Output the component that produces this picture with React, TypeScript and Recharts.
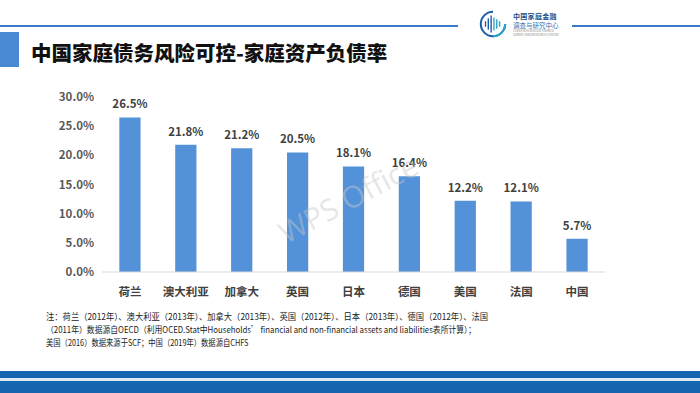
import { BarChart, Bar, XAxis, YAxis, LabelList } from "recharts";

const countries = ["荷兰", "澳大利亚", "加拿大", "英国", "日本", "德国", "美国", "法国", "中国"];
const debtRatio = [26.5, 21.8, 21.2, 20.5, 18.1, 16.4, 12.2, 12.1, 5.7];
const yTicks = [0, 5, 10, 15, 20, 25, 30];

const noteLines = [
  "注：荷兰（2012年）、澳大利亚（2013年）、加拿大（2013年）、英国（2012年）、日本（2013年）、德国（2012年）、法国",
  "（2011年）数据源自OECD（利用OCED.Stat中Households’ financial and non-financial assets and liabilities表所计算）；",
  "美国（2016）数据来源于SCF；中国（2019年）数据源自CHFS",
];
const noteScale = [0.965, 0.91, 0.85];

const data = countries.map((c, i) => ({ country: c, value: debtRatio[i] }));

const font = "'Noto Sans CJK SC', 'Noto Sans', sans-serif";

function Logo() {
  return (
    <div style={{ position: "absolute", left: 478, top: 9, display: "flex", alignItems: "center", gap: 5 }}>
      <svg width={30} height={30} viewBox="0 0 32 32">
        <path d="M16 3 A13 13 0 1 0 29 16" fill="none" stroke="#1b5fa8" strokeWidth={2.2} />
        <path d="M16 29 A13 13 0 0 0 29 16" fill="none" stroke="#2aa6c9" strokeWidth={2.2} />
        {[8, 11, 14, 17, 20, 23].map((x, i) => (
          <line key={i} x1={x} x2={x} y1={16 - [3, 6, 9, 7, 5, 3][i]} y2={16 + [3, 6, 9, 7, 5, 3][i]} stroke={i < 3 ? "#1b5fa8" : "#2aa6c9"} strokeWidth={1.5} />
        ))}
      </svg>
      <div style={{ fontFamily: font }}>
        <div style={{ fontSize: 7, lineHeight: "9px", color: "#1b4f8a", fontWeight: 700, letterSpacing: 0.3 }}>中国家庭金融</div>
        <div style={{ fontSize: 6.5, lineHeight: "8px", color: "#2f6fb0" }}>调查与研究中心</div>
        <div style={{ fontSize: 3, lineHeight: "4px", color: "#888" }}>CHINA HOUSEHOLD FINANCE</div>
        <div style={{ fontSize: 3, lineHeight: "4px", color: "#888" }}>SURVEY AND RESEARCH CENTER</div>
      </div>
    </div>
  );
}

export default function App() {
  return (
    <div style={{ position: "absolute", left: 0, top: 0, width: 700, height: 393, background: "#fff", overflow: "hidden", fontFamily: font }}>
      {/* 顶部线条和标志 */}
      <div style={{ position: "absolute", left: 0, top: 25, width: 458, height: 1.5, background: "#3a7bc8" }} />
      <div style={{ position: "absolute", left: 572, top: 25, width: 128, height: 1.5, background: "#3a7bc8" }} />
      <Logo />

      {/* 标题 */}
      <div style={{ position: "absolute", left: 0, top: 32, width: 19, height: 35, background: "#4a8ad4" }} />
      <div style={{ position: "absolute", left: 31, top: 38, fontSize: 20.5, lineHeight: "28px", fontWeight: 900, color: "#111" }}>
        中国家庭债务风险可控-家庭资产负债率
      </div>

      <div style={{ position: "absolute", left: 0, top: 0 }}>
        <BarChart width={700} height={393} data={data} margin={{ top: 97, right: 95, left: 40, bottom: 91 }} barCategoryGap="69%">
          <XAxis
            dataKey="country"
            axisLine={{ stroke: "#d9d9d9" }}
            tickLine={false}
            height={30}
            tick={{ fill: "#404040", fontSize: 11.5, fontWeight: 700, fontFamily: font }}
            tickMargin={10}
            interval={0}
          />
          <YAxis
            domain={[0, 30]}
            ticks={yTicks}
            width={62}
            axisLine={false}
            tickLine={false}
            tickFormatter={(v: number) => v.toFixed(1) + "%"}
            tick={{ fill: "#595959", fontSize: 11.5, fontWeight: 700, fontFamily: font }}
          />
          <Bar dataKey="value" fill="#5392d8" isAnimationActive={false}>
            <LabelList
              dataKey="value"
              position="top"
              offset={9}
              formatter={(v: any) => Number(v).toFixed(1) + "%"}
              style={{ fill: "#404040", fontSize: 11.5, fontWeight: 700, fontFamily: font }}
            />
          </Bar>
        </BarChart>
      </div>

      {/* 水印 */}
      <div style={{ position: "absolute", left: 272, top: 178, fontSize: 30, color: "rgba(200,200,200,0.45)", transform: "rotate(-28deg)", fontFamily: "'Open Sans', sans-serif", whiteSpace: "nowrap" }}>
        WPS Office
      </div>

      {/* 注释 */}
      <div style={{ position: "absolute", left: 46, top: 310, fontSize: 8.6, color: "#222", lineHeight: "13px", whiteSpace: "nowrap" }}>
        {noteLines.map((l, i) => (
          <div key={i} style={{ transform: `scaleX(${noteScale[i]})`, transformOrigin: "left" }}>{l}</div>
        ))}
      </div>

      {/* 底部条带 */}
      <div style={{ position: "absolute", left: 0, top: 371, width: 700, height: 7, background: "#1565b0" }} />
      <div style={{ position: "absolute", left: 0, top: 378, width: 700, height: 3, background: "#dfeaf5" }} />
      <div style={{ position: "absolute", left: 0, top: 381, width: 700, height: 12, background: "#1565b0" }} />
    </div>
  );
}
